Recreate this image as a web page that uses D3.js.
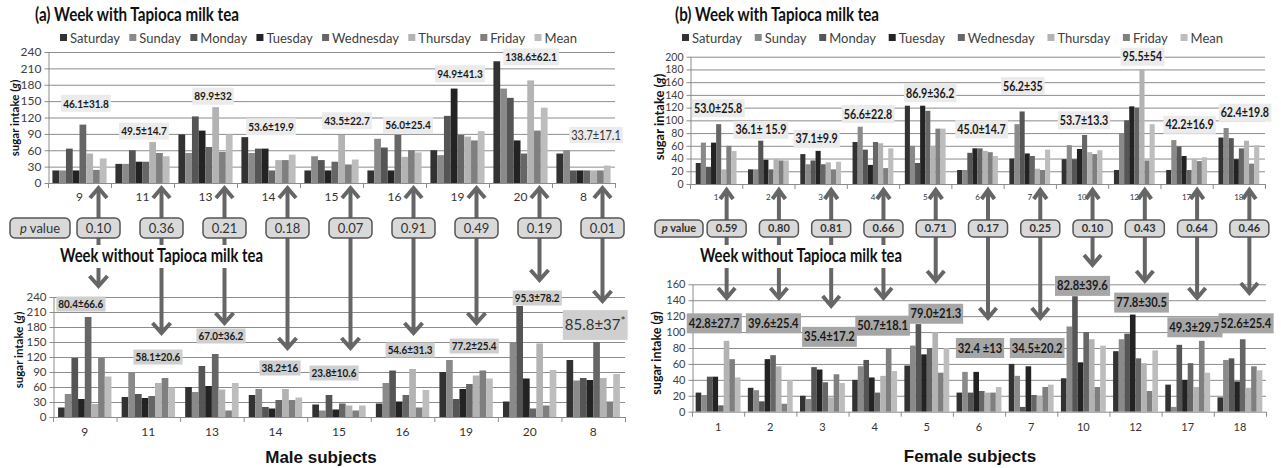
<!DOCTYPE html>
<html>
<head>
<meta charset="utf-8">
<script src="https://cdn.jsdelivr.net/npm/d3@7"></script>
<style>
body { margin: 0; background: #fff; }
svg { display: block; font-family: Lato, "Open Sans", sans-serif; }
</style>
</head>
<body>
<svg id="chart" width="1281" height="468"></svg>
<script>
// ---- data ----
var days = ["Saturday", "Sunday", "Monday", "Tuesday", "Wednesday", "Thursday", "Friday", "Mean"];
var dayColors = ["#323232", "#8a8a8a", "#555555", "#232323", "#666666", "#b3b3b3", "#7f7f7f", "#bdbdbd"];

var maleSubjects = ["9", "11", "13", "14", "15", "16", "19", "20", "8"];
var femaleSubjects = ["1", "2", "3", "4", "5", "6", "7", "10", "12", "17", "18"];

// sugar intake (g), one row per subject, one value per day + mean
var maleWith = [
	[23, 23, 63, 23, 107, 54, 24, 45],
	[35, 35, 60, 39, 39, 75, 55, 49],
	[89, 55, 122, 96, 66, 139, 57, 89],
	[84, 55, 63, 63, 23, 42, 42, 52],
	[23, 49, 42, 23, 39, 88, 34, 43],
	[23, 81, 65, 23, 88, 48, 60, 56],
	[60, 51, 123, 173, 88, 85, 78, 95],
	[223, 173, 156, 78, 54, 188, 96, 138],
	[54, 60, 23, 23, 23, 23, 23, 32]
];
var maleWithout = [
	[19, 46, 118, 36, 200, 26, 118, 81],
	[40, 90, 46, 38, 42, 68, 78, 59],
	[60, 50, 102, 62, 126, 55, 13, 68],
	[44, 56, 20, 17, 34, 56, 34, 39],
	[25, 13, 44, 15, 27, 23, 13, 23],
	[27, 68, 93, 31, 44, 96, 19, 54],
	[90, 114, 36, 56, 66, 83, 93, 77],
	[31, 150, 222, 77, 17, 147, 23, 94],
	[114, 73, 78, 74, 150, 78, 31, 86]
];
var femaleWith = [
	[33, 65, 27, 65, 94, 23, 60, 52],
	[23, 23, 68, 38, 23, 39, 37, 37],
	[47, 31, 37, 52, 31, 34, 23, 35],
	[66, 90, 54, 30, 66, 64, 25, 56],
	[123, 60, 33, 123, 115, 60, 87, 87],
	[22, 22, 49, 56, 56, 52, 50, 44],
	[40, 94, 114, 48, 44, 24, 22, 54],
	[39, 61, 39, 55, 77, 50, 47, 53],
	[22, 80, 100, 122, 120, 180, 37, 94],
	[22, 69, 59, 44, 22, 39, 36, 42],
	[73, 88, 72, 39, 56, 68, 32, 61]
];
var femaleWithout = [
	[24, 21, 44, 44, 8, 89, 66, 43],
	[30, 27, 13, 66, 71, 57, 10, 40],
	[20, 16, 56, 53, 37, 18, 47, 36],
	[40, 57, 65, 43, 24, 45, 80, 51],
	[58, 83, 110, 72, 80, 100, 49, 80],
	[24, 50, 24, 50, 26, 24, 24, 31],
	[60, 45, 6, 57, 21, 20, 31, 34],
	[42, 107, 145, 62, 100, 91, 31, 83],
	[76, 91, 98, 122, 67, 61, 26, 77],
	[34, 6, 84, 40, 61, 31, 89, 49],
	[18, 65, 67, 38, 91, 30, 57, 52]
];

var maleWithLabels = ["46.1±31.8", "49.5±14.7", "89.9±32", "53.6±19.9", "43.5±22.7", "56.0±25.4", "94.9±41.3", "138.6±62.1", "33.7±17.1"];
var maleWithoutLabels = ["80.4±66.6", "58.1±20.6", "67.0±36.2", "38.2±16", "23.8±10.6", "54.6±31.3", "77.2±25.4", "95.3±78.2", "85.8±37*"];
var femaleWithLabels = ["53.0±25.8", "36.1± 15.9", "37.1±9.9", "56.6±22.8", "86.9±36.2", "45.0±14.7", "56.2±35", "53.7±13.3", "95.5±54", "42.2±16.9", "62.4±19.8"];
var femaleWithoutLabels = ["42.8±27.7", "39.6±25.4", "35.4±17.2", "50.7±18.1", "79.0±21.3", "32.4 ±13", "34.5±20.2", "82.8±39.6", "77.8±30.5", "49.3±29.7", "52.6±25.4"];

var maleP = ["0.10", "0.36", "0.21", "0.18", "0.07", "0.91", "0.49", "0.19", "0.01"];
var femaleP = ["0.59", "0.80", "0.81", "0.66", "0.71", "0.17", "0.25", "0.10", "0.43", "0.64", "0.46"];

// ---- layout (label anchors: [dx px from group centre, height in axis units]) ----
var maleWithLabelAt = [[6.5,146],[1.5,95],[7.5,159],[2.5,103],[15.5,114],[13.5,106],[2.5,200],[10.5,231],[12.5,88]];
var maleWithoutLabelAt = [[-4,226],[9.5,120],[9,162],[4.5,98],[-5,88],[7.5,134],[8,142],[7.5,238],[2,184]];
var femaleWithLabelAt = [[2,119],[-7.5,85],[-4,71],[-5,110],[5,143],[4,86],[-7,154],[2,100],[8,200],[3,93],[6,112]];
var femaleWithoutLabelAt = [[-4,111],[3,111],[7,94],[8,108],[9,123],[1,80],[6,80],[-1,158],[6,137],[7,106],[6,111]];
var maleArrowTip = [288, 335, 325, 350, 350, 335, 325, 282, 303];
var femaleArrowTip = [300, 300, 308, 300, 283, 320, 320, 267, 283, 300, 295];

var svg = d3.select("#chart");
var gridColor = "#8c8c8c";

function drawPanel(p) {
	var g = svg.append("g");
	var x0 = d3.scaleBand().domain(p.subjects).range([p.left, p.right])
		.paddingInner(p.pad).paddingOuter(p.pad / 2);
	var x1 = d3.scaleBand().domain(days).range([0, x0.bandwidth()]);
	var y = d3.scaleLinear().domain([0, p.yMax]).range([p.bottom, p.top]);
	var ticks = d3.range(0, p.yMax + 1, p.yStep);

	g.append("g").selectAll("line").data(ticks.slice(1)).join("line")
		.attr("x1", p.left).attr("x2", p.right)
		.attr("y1", function(d){ return y(d) + 0.5; }).attr("y2", function(d){ return y(d) + 0.5; })
		.attr("stroke", gridColor).attr("stroke-width", 1);

	var ya = g.append("g").attr("transform", "translate(" + (p.left + 0.5) + ",0)")
		.call(d3.axisLeft(y).tickValues(ticks).tickSize(4).tickPadding(3).tickSizeOuter(0));
	ya.select(".domain").attr("stroke", gridColor);
	ya.selectAll(".tick line").attr("stroke", gridColor);
	ya.selectAll(".tick text").attr("fill", "#404040")
		.style("font-family", "Lato, sans-serif").style("font-size", p.tickFont + "px");

	// bars
	g.append("g").selectAll("g").data(p.values).join("g")
		.attr("transform", function(d, i){ return "translate(" + x0(p.subjects[i]) + ",0)"; })
		.selectAll("rect").data(function(d){ return d; }).join("rect")
		.attr("x", function(d, j){ return x1(days[j]); })
		.attr("width", x1.bandwidth())
		.attr("y", function(d){ return y(d); })
		.attr("height", function(d){ return y(0) - y(d); })
		.attr("fill", function(d, j){ return dayColors[j]; });

	// category axis
	var step = x0.step();
	g.append("line").attr("x1", p.left).attr("x2", p.right)
		.attr("y1", y(0) + 0.5).attr("y2", y(0) + 0.5).attr("stroke", gridColor);
	g.append("g").selectAll("line").data(d3.range(p.subjects.length + 1)).join("line")
		.attr("x1", function(k){ return p.left + k * step + 0.5; })
		.attr("x2", function(k){ return p.left + k * step + 0.5; })
		.attr("y1", y(0)).attr("y2", y(0) + 5).attr("stroke", gridColor);
	g.append("g").selectAll("text").data(p.subjects).join("text")
		.attr("x", function(s){ return x0(s) + x0.bandwidth() / 2; })
		.attr("y", p.catY)
		.attr("text-anchor", "middle").attr("fill", "#333")
		.style("font-size", p.catFont + "px")
		.text(function(s){ return s; });

	// y title
	var yt = g.append("text")
		.attr("transform", "translate(" + p.titleX + "," + p.titleY + ") rotate(-90)")
		.attr("text-anchor", "middle").attr("fill", "#111")
		.style("font-weight", "bold").style("font-size", p.titleFont + "px");
	yt.append("tspan").text("sugar intake (");
	yt.append("tspan").style("font-style", "italic").text("g");
	yt.append("tspan").text(")");

	// mean ± sd labels
	var lg = g.append("g");
	p.labels.forEach(function(t, i){
		var plain = p.plain.indexOf(i) >= 0;
		var cx = x0(p.subjects[i]) + x0.bandwidth() / 2 + p.labelAt[i][0];
		var cy = y(p.labelAt[i][1]);
		var fs = plain ? p.plainFont : p.labelFont;
		var box = lg.append("rect").attr("fill", plain ? p.plainBg : p.labelBg);
		var tx = lg.append("text").attr("x", cx).attr("y", cy).attr("dy", "0.35em")
			.attr("text-anchor", "middle").attr("fill", plain ? "#333" : "#1a1a1a")
			.style("font-weight", plain ? "normal" : "bold").style("font-size", fs + "px");
		if (t.slice(-1) === "*") {
			tx.append("tspan").text(t.slice(0, -1));
			tx.append("tspan").attr("dy", "-0.4em").style("font-size", (fs * 0.8) + "px").text("*");
		} else {
			tx.text(t);
			var len = tx.node().getComputedTextLength();
			tx.attr("textLength", len * p.squeeze).attr("lengthAdjust", "spacingAndGlyphs");
		}
		var bb = tx.node().getBBox();
		var ph = plain ? p.plainPadY : p.padY;
		box.attr("x", bb.x - 2).attr("width", bb.width + 4)
			.attr("y", cy - bb.height / 2 - ph).attr("height", bb.height + 2 * ph);
	});

	return { x0: x0, y: y };
}

function drawLegend(x, xEnd, yy) {
	var g = svg.append("g");
	var items = g.selectAll("g").data(days).join("g");
	items.append("rect").attr("width", 7).attr("height", 7).attr("y", yy - 4)
		.attr("fill", function(d, j){ return dayColors[j]; });
	items.append("text").attr("x", 10).attr("y", yy).attr("dy", "0.35em")
		.attr("fill", "#404040").style("font-size", "13px")
		.text(function(d){ return d; });
	var widths = [];
	items.select("text").each(function(){ widths.push(10 + this.getComputedTextLength()); });
	var gap = (xEnd - x - d3.sum(widths)) / (days.length - 1);
	var pos = x;
	items.attr("transform", function(d, j){
		var t = "translate(" + pos + ",0)";
		pos += widths[j] + gap;
		return t;
	});
}

function chevron(g, x, y, dir, w, h) {
	// dir -1: pointing up with tip at y ; +1: pointing down
	g.append("path")
		.attr("d", "M" + (x - w / 2) + "," + (y - dir * h) + "L" + x + "," + y + "L" + (x + w / 2) + "," + (y - dir * h))
		.attr("fill", "none").attr("stroke", "#666").attr("stroke-width", 4)
		.attr("stroke-linejoin", "miter").attr("stroke-linecap", "butt");
}

function drawLinks(c) {
	var g = svg.append("g");
	var xs = c.subjects.map(function(s){ return c.top.x0(s) + c.top.x0.bandwidth() / 2 + c.dx; });
	xs.forEach(function(x, i){
		g.append("line").attr("x1", x).attr("x2", x)
			.attr("y1", c.startY + 2).attr("y2", c.tips[i] - 2)
			.attr("stroke", "#666").attr("stroke-width", 4);
		chevron(g, x, c.startY + 2, -1, c.upW, c.upH);
		chevron(g, x, c.tips[i] - 2, 1, c.headW, c.headH);
	});
	// p value boxes
	var boxes = g.selectAll("g.pb").data(c.p).join("g").attr("class", "pb");
	boxes.append("rect")
		.attr("x", function(d, i){ return xs[i] - c.boxW / 2; })
		.attr("y", c.boxY).attr("width", c.boxW).attr("height", c.boxH)
		.attr("rx", 5).attr("fill", "#d9d9d9").attr("stroke", "#555").attr("stroke-width", 1.5);
	boxes.append("text")
		.attr("x", function(d, i){ return xs[i]; })
		.attr("y", c.boxY + c.boxH / 2).attr("dy", "0.35em")
		.attr("text-anchor", "middle").attr("fill", "#333")
		.style("font-size", c.pFont + "px").style("font-weight", c.pWeight)
		.text(function(d){ return d; });
	g.append("rect").attr("x", c.pvX).attr("y", c.boxY).attr("width", c.pvW).attr("height", c.boxH)
		.attr("rx", 5).attr("fill", "#d9d9d9").attr("stroke", "#555").attr("stroke-width", 1.5);
	var pv = g.append("text").attr("x", c.pvX + c.pvW / 2).attr("y", c.boxY + c.boxH / 2).attr("dy", "0.35em")
		.attr("text-anchor", "middle").attr("fill", "#333")
		.style("font-size", c.pFont + "px").style("font-weight", c.pWeight);
	pv.append("tspan").style("font-style", "italic").text("p");
	pv.append("tspan").text(" value");
	// middle caption with white backing
	var back = g.append("rect").attr("fill", "#fff");
	g.append("text").attr("x", c.capX).attr("y", c.capY)
		.attr("fill", "#111").style("font-weight", "bold").style("font-size", "18px")
		.attr("textLength", c.capW).attr("lengthAdjust", "spacingAndGlyphs")
		.text("Week without Tapioca milk tea");
	back.attr("x", c.capX - 2).attr("y", c.capY - 17).attr("width", c.capW + 4).attr("height", 23);
}

function title(x, t) {
	svg.append("text").attr("x", x).attr("y", 21).attr("fill", "#111")
		.attr("textLength", 204).attr("lengthAdjust", "spacingAndGlyphs")
		.style("font-weight", "bold").style("font-size", "18px").text(t);
}

// ---- left: male subjects ----
title(35, "(a) Week with Tapioca milk tea");
drawLegend(60, 577, 38);
var lt = drawPanel({
	subjects: maleSubjects, values: maleWith, labels: maleWithLabels, labelAt: maleWithLabelAt,
	left: 48, right: 615, top: 52, bottom: 183, yMax: 240, yStep: 30, pad: 0.14,
	tickFont: 12, catFont: 12, catY: 201, titleX: 19, titleY: 118, titleFont: 11.5,
	labelFont: 12, squeeze: 0.84, labelBg: "#ebebeb", padY: 1,
	plain: [8], plainFont: 13, plainBg: "#ebebeb", plainPadY: 0
});
var lb = drawPanel({
	subjects: maleSubjects, values: maleWithout, labels: maleWithoutLabels, labelAt: maleWithoutLabelAt,
	left: 53, right: 625, top: 297, bottom: 417, yMax: 240, yStep: 30, pad: 0.16,
	tickFont: 11.5, catFont: 12, catY: 436, titleX: 23, titleY: 350, titleFont: 11.5,
	labelFont: 11.5, squeeze: 0.86, labelBg: "#cfcfcf", padY: 1,
	plain: [8], plainFont: 15, plainBg: "#cfcfcf", plainPadY: 5
});
drawLinks({
	top: lt, subjects: maleSubjects, p: maleP, tips: maleArrowTip, dx: 19, startY: 186,
	upW: 17, upH: 10, headW: 18, headH: 10, boxY: 218, boxH: 20, boxW: 43, pFont: 13, pWeight: "normal",
	pvX: 10, pvW: 60, capX: 60, capY: 262, capW: 203
});
svg.append("text").attr("x", 321).attr("y", 463).attr("text-anchor", "middle").attr("fill", "#111")
	.style("font-family", "'Liberation Sans', Arial, sans-serif").style("font-weight", "bold")
	.style("font-size", "17px").text("Male subjects");

// ---- right: female subjects ----
title(675, "(b) Week with Tapioca milk tea");
drawLegend(682, 1223, 38);
var rt = drawPanel({
	subjects: femaleSubjects, values: femaleWith, labels: femaleWithLabels, labelAt: femaleWithLabelAt,
	left: 690, right: 1265, top: 56.7, bottom: 184, yMax: 200, yStep: 20, pad: 0.22,
	tickFont: 10.5, catFont: 8, catY: 200, titleX: 664, titleY: 117, titleFont: 13,
	labelFont: 13, squeeze: 0.82, labelBg: "#ebebeb", padY: 1,
	plain: [], plainFont: 13, plainBg: "#ebebeb", plainPadY: 0
});
var rb = drawPanel({
	subjects: femaleSubjects, values: femaleWithout, labels: femaleWithoutLabels, labelAt: femaleWithoutLabelAt,
	left: 692, right: 1266, top: 284.3, bottom: 411.7, yMax: 160, yStep: 20, pad: 0.14,
	tickFont: 11, catFont: 11, catY: 431, titleX: 661, titleY: 353, titleFont: 12.5,
	labelFont: 13, squeeze: 0.86, labelBg: "#a6a6a6", padY: 2,
	plain: [], plainFont: 13, plainBg: "#a6a6a6", plainPadY: 0
});
drawLinks({
	top: rt, subjects: femaleSubjects, p: femaleP, tips: femaleArrowTip, dx: 10.5, startY: 188,
	upW: 13, upH: 9, headW: 17, headH: 10, boxY: 220, boxH: 17, boxW: 39, pFont: 11, pWeight: "bold",
	pvX: 655, pvW: 48, capX: 700, capY: 262, capW: 202
});
svg.append("text").attr("x", 970).attr("y", 462).attr("text-anchor", "middle").attr("fill", "#111")
	.style("font-family", "'Liberation Sans', Arial, sans-serif").style("font-weight", "bold")
	.style("font-size", "17px").text("Female subjects");
</script>
</body>
</html>
